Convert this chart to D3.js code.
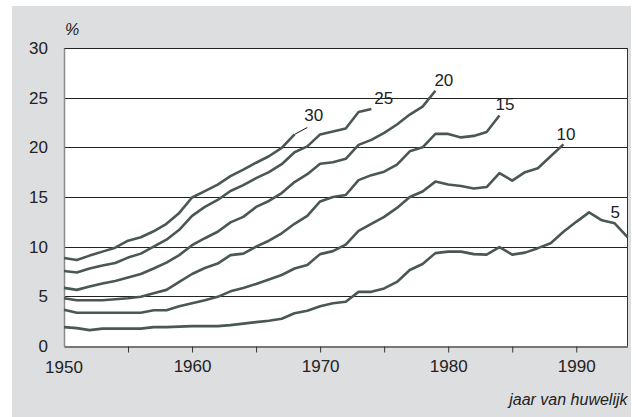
<!DOCTYPE html>
<html>
<head>
<meta charset="utf-8">
<script src="https://cdn.jsdelivr.net/npm/d3@7"></script>
<style>
  html, body { margin: 0; padding: 0; background: #ffffff; }
  svg { display: block; font-family: "Liberation Sans", Arial, sans-serif; }
</style>
</head>
<body>
<svg id="chart" width="636" height="417"></svg>
<script>
// ---- data ----
const years = [1950,1951,1952,1953,1954,1955,1956,1957,1958,1959,
               1960,1961,1962,1963,1964,1965,1966,1967,1968,1969,
               1970,1971,1972,1973,1974,1975,1976,1977,1978,1979,
               1980,1981,1982,1983,1984,1985,1986,1987,1988,1989,
               1990,1991,1992,1993,1994];
const seriesNames = ["5", "10", "15", "20", "25", "30"];
const s5  = [1.9,1.8,1.6,1.75,1.75,1.75,1.75,1.9,1.9,1.95,
             2.0,2.0,2.0,2.1,2.25,2.4,2.55,2.75,3.3,3.55,
             4.0,4.3,4.45,5.45,5.45,5.8,6.45,7.65,8.25,9.35,
             9.5,9.5,9.25,9.2,9.95,9.2,9.4,9.85,10.35,11.5,
             12.5,13.45,12.65,12.35,10.95];
const s10 = [3.65,3.35,3.35,3.35,3.35,3.35,3.35,3.6,3.6,4.0,
             4.3,4.6,4.95,5.5,5.85,6.25,6.7,7.15,7.8,8.15,
             9.25,9.55,10.2,11.6,12.3,13.0,13.9,15.0,15.55,16.55,
             16.25,16.1,15.85,16.0,17.4,16.65,17.5,17.9,19.1,20.3];
const s15 = [4.8,4.6,4.6,4.6,4.7,4.8,4.95,5.3,5.65,6.45,
             7.25,7.85,8.3,9.15,9.3,10.0,10.6,11.35,12.3,13.1,
             14.55,15.0,15.2,16.7,17.2,17.55,18.25,19.6,20.0,21.35,
             21.35,21.0,21.15,21.55,23.2];
const s20 = [5.85,5.65,6.0,6.3,6.55,6.9,7.25,7.8,8.4,9.15,
             10.15,10.85,11.5,12.45,13.0,14.0,14.6,15.4,16.5,17.3,
             18.35,18.5,18.85,20.25,20.75,21.45,22.3,23.3,24.1,25.7];
const s25 = [7.55,7.4,7.8,8.1,8.35,8.9,9.3,10.0,10.7,11.7,
             13.1,14.0,14.7,15.6,16.2,16.9,17.5,18.3,19.5,20.1,
             21.3,21.6,21.9,23.55,23.85];
const s30 = [8.85,8.65,9.1,9.5,9.9,10.6,10.95,11.55,12.3,13.4,
             14.95,15.6,16.25,17.1,17.75,18.45,19.1,19.95,21.3];
const yTicks = [0,5,10,15,20,25,30];
const xTickLabels = [1950,1960,1970,1980,1990];
const xMinorTicks = [1955,1960,1965,1970,1975,1980,1985,1990];
const leader30 = [[1968,21.3],[1969,22.0]];

// ---- layout ----
const W = 636, H = 417;
const plot = {left: 64, right: 627.5, top: 48, bottom: 346};
const lineColor = "#4b5755";
const fontSize = 17;
// label offsets (px) relative to the end point of each series
const labelOffsets = {"5": [-17,-19], "10": [-7,-4], "15": [-4,-6], "20": [-1,-5], "25": [3,-5], "30": [-3,-6]};

const svg = d3.select("#chart");
const x = d3.scaleLinear().domain([1950,1994]).range([plot.left, plot.right]);
const y = d3.scaleLinear().domain([0,30]).range([plot.bottom, plot.top]);

// gray panel
svg.append("rect").attr("x",12).attr("y",6).attr("width",619).attr("height",411).attr("fill","#dddedf");
// plot area
svg.append("rect").attr("x",plot.left).attr("y",plot.top)
   .attr("width",plot.right-plot.left).attr("height",plot.bottom-plot.top).attr("fill","#ffffff");

// gridlines
svg.append("g").selectAll("line").data(yTicks.filter(d=>d>0)).join("line")
  .attr("x1",plot.left).attr("x2",plot.right)
  .attr("y1",d=>Math.round(y(d))+0.5).attr("y2",d=>Math.round(y(d))+0.5)
  .attr("stroke","#222").attr("stroke-width",1);

// right border
svg.append("line").attr("x1",plot.right).attr("x2",plot.right).attr("y1",plot.top).attr("y2",plot.bottom)
  .attr("stroke","#333").attr("stroke-width",1);

// y axis
const yAxis = svg.append("g").attr("transform",`translate(${plot.left},0)`)
  .call(d3.axisLeft(y).tickValues(yTicks).tickSize(0).tickPadding(16));
yAxis.select(".domain").attr("stroke","#8a8a8a").attr("stroke-width",1.5);
yAxis.selectAll("text").attr("font-size",fontSize).attr("fill","#222").attr("font-family","Liberation Sans, Arial, sans-serif");

// x axis
const xAxis = svg.append("g").attr("transform",`translate(0,${Math.round(plot.bottom)+0.5})`)
  .call(d3.axisBottom(x).tickValues(xMinorTicks).tickSize(6).tickSizeOuter(0).tickFormat(d => xTickLabels.includes(d) ? d : ""));
xAxis.select(".domain").attr("stroke","#111");
xAxis.selectAll(".tick line").attr("stroke","#333");
xAxis.selectAll("text").attr("font-size",fontSize).attr("fill","#222").attr("dy","0.95em")
  .attr("font-family","Liberation Sans, Arial, sans-serif");
// 1950 label (at axis origin)
svg.append("text").attr("x",x(1950)).attr("y",plot.bottom+27).attr("text-anchor","middle")
  .attr("font-size",fontSize).attr("fill","#222").text(xTickLabels[0]);

// series lines
const allSeries = [s5,s10,s15,s20,s25,s30];
const line = d3.line().x((d,i)=>x(years[i])).y(d=>y(d));
allSeries.forEach((s,k)=>{
  svg.append("path").datum(s).attr("d",line)
    .attr("fill","none").attr("stroke",lineColor).attr("stroke-width",2.6)
    .attr("stroke-linejoin","round").attr("stroke-linecap","butt");
});

// leader for 30
svg.append("line")
  .attr("x1",x(leader30[0][0])).attr("y1",y(leader30[0][1]))
  .attr("x2",x(leader30[1][0])).attr("y2",y(leader30[1][1]))
  .attr("stroke","#111").attr("stroke-width",1);

// series labels
allSeries.forEach((s,k)=>{
  const name = seriesNames[k];
  let ex = x(years[s.length-1]), ey = y(s[s.length-1]);
  if (name === "30") { ex = x(leader30[1][0]); ey = y(leader30[1][1]); }
  const off = labelOffsets[name];
  svg.append("text").attr("x",ex+off[0]).attr("y",ey+off[1])
    .attr("font-size",fontSize).attr("fill","#222").text(name);
});

// unit and axis title
svg.append("text").attr("x",65).attr("y",35).attr("font-size",16).attr("font-style","italic")
  .attr("fill","#222").text("%");
svg.append("text").attr("x",627.5).attr("y",405).attr("text-anchor","end")
  .attr("font-size",16).attr("font-style","italic").attr("fill","#222").text("jaar van huwelijk");
</script>
</body>
</html>
